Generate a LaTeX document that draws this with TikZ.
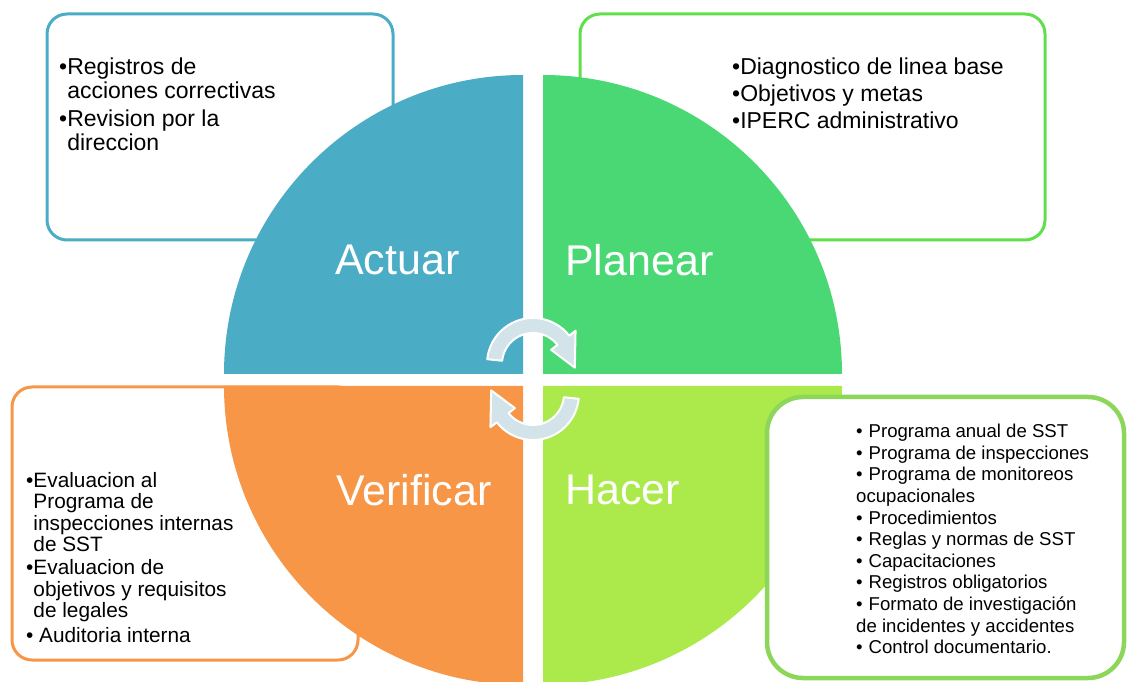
\documentclass[tikz,border=0pt]{standalone}
\usepackage{fontspec}
\setmainfont{Liberation Sans}
\usetikzlibrary{positioning,calc}

\definecolor{actblue}{HTML}{4BACC6}
\definecolor{plangreen}{HTML}{4AD874}
\definecolor{planline}{HTML}{5FE04B}
\definecolor{verorange}{HTML}{F79646}
\definecolor{hacerlime}{HTML}{ABEA4A}
\definecolor{hacerline}{HTML}{8CD65A}
\definecolor{arrowfill}{HTML}{D3E3EA}

\tikzstyle{listbox} = [rounded corners=20pt, line width=3pt, fill=white]
\tikzstyle{items} = [inner sep=0pt, align=left, text=black, anchor=north west]
\tikzstyle{phase} = [inner sep=0pt, anchor=west, text=white, font=\fontsize{43}{43}\selectfont]
\tikzstyle{cyclearrow} = [fill=arrowfill, draw=white, line width=2pt, line join=round]

\begin{document}
\begin{tikzpicture}[x=1pt, y=1pt]
    \useasboundingbox (0,0) rectangle (1128,681);
    % Boxes behind the circle
    \draw [listbox, draw=actblue] (47,441) rectangle (393,667);
    \draw [listbox, draw=planline] (580,441) rectangle (1045,667);
    \draw [listbox, draw=verorange] (12,21) rectangle (358,294);
    % Quadrants
    \fill [actblue] (523,307) -- (224,307) arc[start angle=180, end angle=90, radius=299] -- cycle;
    \fill [plangreen] (543,307) -- (543,606) arc[start angle=90, end angle=0, radius=299] -- cycle;
    \fill [verorange] (523,295) -- (224,295) arc[start angle=180, end angle=270, radius=299] -- cycle;
    \fill [hacerlime] (543,295) -- (842,295) arc[start angle=0, end angle=-90, radius=299] -- cycle;
    % Cycle arrows
    \coordinate (upc) at (533,317);
    \coordinate (loc) at (533,287);
    \draw [cyclearrow] ($(upc)+(174:46)$) arc[start angle=174, end angle=38, radius=46]
        -- ($(upc)+(38:54)$) -- ($(upc)+(-5:42)$) -- ($(upc)+(38:23)$) -- ($(upc)+(38:31)$)
        arc[start angle=38, end angle=174, radius=31] -- cycle;
    \draw [cyclearrow] ($(loc)+(-6:46)$) arc[start angle=-6, end angle=-142, radius=46]
        -- ($(loc)+(-142:54)$) -- ($(loc)+(175:42)$) -- ($(loc)+(-142:23)$) -- ($(loc)+(-142:31)$)
        arc[start angle=-142, end angle=-6, radius=31] -- cycle;
    % Box in front of the circle
    \draw [listbox, rounded corners=36pt, line width=4.5pt, draw=hacerline] (767,3) rectangle (1124,284);
    % Place nodes
    \node [phase] (actuar) at (335,421) {Actuar};
    \node [phase] (planear) at (565,421) {Planear};
    \node [phase] (verificar) at (336,191) {Verificar};
    \node [phase] (hacer) at (565,191) {Hacer};
    \node [items, font=\fontsize{23}{23.5}\selectfont] (actitems) at (59,623)
        {•Registros de\\\hphantom{•}acciones correctivas\\[5pt]•Revision por la\\\hphantom{•}direccion};
    \node [items, font=\fontsize{23}{27}\selectfont] (planitems) at (732,623)
        {•Diagnostico de linea base\\•Objetivos y metas\\•IPERC administrativo};
    \node [items, font=\fontsize{20.8}{21.5}\selectfont] (veritems) at (26,209)
        {•Evaluacion al\\\hphantom{•}Programa de\\\hphantom{•}inspecciones internas\\\hphantom{•}de SST\\[1.5pt]%
        •Evaluacion de\\\hphantom{•}objetivos y requisitos\\\hphantom{•}de legales\\[3pt]• Auditoria interna};
    \node [items, font=\fontsize{18.6}{21.6}\selectfont] (haceritems) at (856,257)
        {•\hspace{6pt}Programa anual de SST\\•\hspace{6pt}Programa de inspecciones\\%
        •\hspace{6pt}Programa de monitoreos\\ocupacionales\\•\hspace{6pt}Procedimientos\\%
        •\hspace{6pt}Reglas y normas de SST\\•\hspace{6pt}Capacitaciones\\•\hspace{6pt}Registros obligatorios\\%
        •\hspace{6pt}Formato de investigación\\de incidentes y accidentes\\•\hspace{6pt}Control documentario.};
\end{tikzpicture}
\end{document}
